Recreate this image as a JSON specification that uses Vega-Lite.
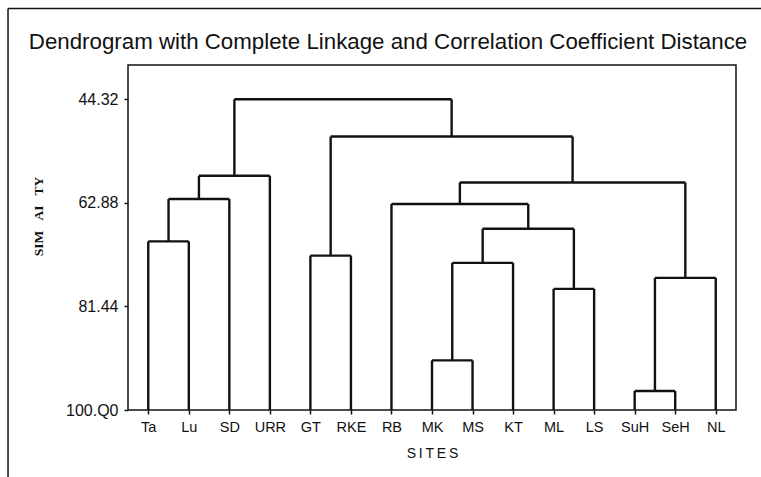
{
  "$schema": "https://vega.github.io/schema/vega-lite/v6.json",
  "width": 608,
  "height": 345,
  "autosize": {"type": "none"},
  "padding": {"left": 128, "top": 65, "right": 25, "bottom": 67},
  "background": "white",
  "title": {
    "text": "Dendrogram with Complete Linkage and Correlation Coefficient Distance",
    "font": "Liberation Sans",
    "fontSize": 22.3,
    "fontWeight": "normal",
    "color": "#111111",
    "anchor": "middle",
    "dx": -44,
    "offset": -63,
    "baseline": "alphabetic"
  },
  "config": {
    "view": {"stroke": "#111111", "strokeWidth": 1.5},
    "axis": {"grid": false, "domain": false, "tickColor": "#111111", "tickWidth": 1.5, "labelColor": "#111111", "titleColor": "#111111"}
  },
  "data": {
    "values": [
      {"merge": "Ta+Lu", "lx": 0, "rx": 1, "lh": 100, "rh": 100, "h": 69.78},
      {"merge": "A+SD", "lx": 0.5, "rx": 2, "lh": 69.78, "rh": 100, "h": 62.2},
      {"merge": "B+URR", "lx": 1.25, "rx": 3, "lh": 62.2, "rh": 100, "h": 58.03},
      {"merge": "GT+RKE", "lx": 4, "rx": 5, "lh": 100, "rh": 100, "h": 72.34},
      {"merge": "MK+MS", "lx": 7, "rx": 8, "lh": 100, "rh": 100, "h": 91.11},
      {"merge": "E+KT", "lx": 7.5, "rx": 9, "lh": 91.11, "rh": 100, "h": 73.64},
      {"merge": "ML+LS", "lx": 10, "rx": 11, "lh": 100, "rh": 100, "h": 78.29},
      {"merge": "F+G", "lx": 8.25, "rx": 10.5, "lh": 73.64, "rh": 78.29, "h": 67.51},
      {"merge": "RB+H", "lx": 6, "rx": 9.375, "lh": 100, "rh": 67.51, "h": 63.09},
      {"merge": "SuH+SeH", "lx": 12, "rx": 13, "lh": 100, "rh": 100, "h": 96.6},
      {"merge": "J+NL", "lx": 12.5, "rx": 14, "lh": 96.6, "rh": 100, "h": 76.32},
      {"merge": "I+K", "lx": 7.6875, "rx": 13.25, "lh": 63.09, "rh": 76.32, "h": 59.23},
      {"merge": "D+L", "lx": 4.5, "rx": 10.46875, "lh": 72.34, "rh": 59.23, "h": 51.0},
      {"merge": "C+M", "lx": 2.125, "rx": 7.484375, "lh": 58.03, "rh": 51.0, "h": 44.32}
    ]
  },
  "layer": [
    {
      "mark": {"type": "rule", "color": "#111111", "strokeWidth": 2.4},
      "encoding": {
        "x": {
          "field": "lx", "type": "quantitative",
          "scale": {"domain": [-0.5, 14.5], "nice": false, "zero": false},
          "axis": {
            "values": [0, 1, 2, 3, 4, 5, 6, 7, 8, 9, 10, 11, 12, 13, 14],
            "labelExpr": "['Ta','Lu','SD','URR','GT','RKE','RB','MK','MS','KT','ML','LS','SuH','SeH','NL'][datum.value]",
            "tickSize": 4,
            "labelFont": "Liberation Sans",
            "labelFontSize": 14.5,
            "labelPadding": 6,
            "title": "S\u2009I\u2009T\u2009E\u2009S",
            "titleFont": "Liberation Sans",
            "titleFontSize": 14,
            "titleFontWeight": "normal",
            "titlePadding": 13
          }
        },
        "x2": {"field": "rx"},
        "y": {
          "field": "h", "type": "quantitative",
          "scale": {"domain": [38.175, 100], "reverse": true, "nice": false, "zero": false},
          "axis": {
            "values": [44.32, 62.88, 81.44, 100],
            "labelExpr": "datum.value == 100 ? '100.Q0' : format(datum.value, '.2f')",
            "tickSize": 4,
            "labelFont": "Liberation Sans",
            "labelFontSize": 16,
            "labelPadding": 6,
            "title": "SIM\u00a0\u00a0\u00a0AI\u00a0\u00a0\u00a0TY",
            "titleFont": "Liberation Serif",
            "titleFontSize": 13.5,
            "titleFontWeight": "bold",
            "titleAngle": -90,
            "titleX": -90,
            "titleY": 151,
            "titleAlign": "center",
            "titleBaseline": "middle"
          }
        }
      }
    },
    {
      "mark": {"type": "rule", "color": "#111111", "strokeWidth": 2.4},
      "encoding": {
        "x": {"field": "lx", "type": "quantitative"},
        "y": {"field": "lh", "type": "quantitative"},
        "y2": {"field": "h"}
      }
    },
    {
      "mark": {"type": "rule", "color": "#111111", "strokeWidth": 2.4},
      "encoding": {
        "x": {"field": "rx", "type": "quantitative"},
        "y": {"field": "rh", "type": "quantitative"},
        "y2": {"field": "h"}
      }
    },
    {
      "data": {"values": [{"part": "outer frame"}]},
      "mark": {"type": "rule", "color": "#111111", "strokeWidth": 1.5, "clip": false},
      "encoding": {
        "x": {"datum": -3.46, "type": "quantitative"},
        "y": {"datum": 28.07, "type": "quantitative"},
        "y2": {"datum": 115}
      }
    },
    {
      "data": {"values": [{"part": "outer frame"}]},
      "mark": {"type": "rule", "color": "#111111", "strokeWidth": 1.5, "clip": false},
      "encoding": {
        "x": {"datum": -3.46, "type": "quantitative"},
        "x2": {"datum": 16},
        "y": {"datum": 28.07, "type": "quantitative"}
      }
    }
  ]
}
